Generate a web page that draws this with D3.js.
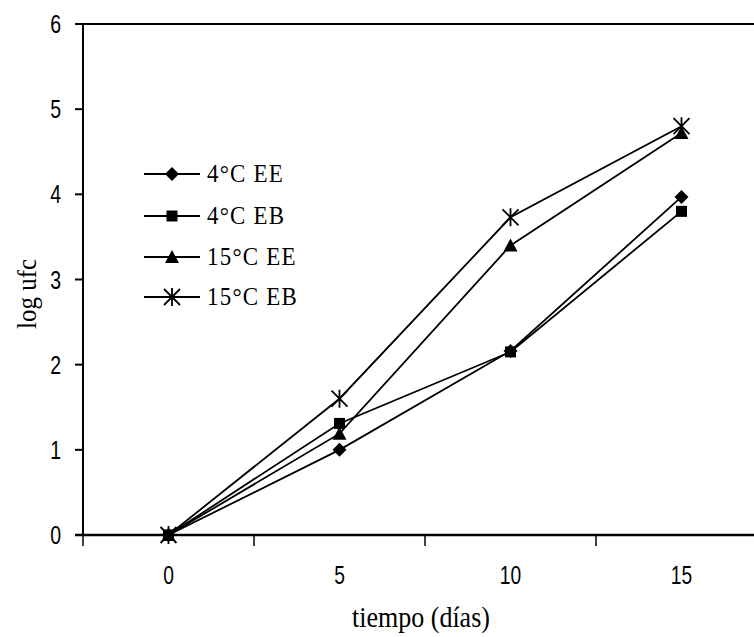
<!DOCTYPE html>
<html>
<head>
<meta charset="utf-8">
<script src="https://cdn.jsdelivr.net/npm/d3@7"></script>
<style>
  body { margin: 0; background: #fff; }
  svg { display: block; }
</style>
</head>
<body>
<svg id="chart" width="754" height="637"></svg>
<script>
// data
const dias = ["0", "5", "10", "15"];
const ee4 = [0, 1.0, 2.16, 3.97];
const eb4 = [0, 1.31, 2.15, 3.8];
const ee15 = [0, 1.19, 3.4, 4.72];
const eb15 = [0, 1.6, 3.73, 4.8];
const yTicks = [0, 1, 2, 3, 4, 5, 6];

const series = [
  { name: "4°C EE", values: ee4, marker: "diamond" },
  { name: "4°C EB", values: eb4, marker: "square" },
  { name: "15°C EE", values: ee15, marker: "triangle" },
  { name: "15°C EB", values: eb15, marker: "star" }
];

const svg = d3.select("#chart");
const plotL = 83, plotR = 767, plotT = 24, plotB = 535;

const x = d3.scaleBand().domain(dias).range([plotL, plotR]).padding(0);
const y = d3.scaleLinear().domain([0, 6]).range([plotB, plotT]);

// frame lines (top, left, bottom axis)
svg.append("line").attr("x1", plotL).attr("x2", plotR).attr("y1", plotT).attr("y2", plotT)
  .attr("stroke", "#000").attr("stroke-width", 2);
svg.append("line").attr("x1", plotL).attr("x2", plotL).attr("y1", plotT).attr("y2", plotB)
  .attr("stroke", "#000").attr("stroke-width", 2);
svg.append("line").attr("x1", plotL - 8).attr("x2", plotR).attr("y1", plotB).attr("y2", plotB)
  .attr("stroke", "#000").attr("stroke-width", 2.5);

// y ticks + labels
yTicks.forEach(t => {
  svg.append("line").attr("x1", plotL - 8).attr("x2", plotL).attr("y1", y(t)).attr("y2", y(t))
    .attr("stroke", "#000").attr("stroke-width", 2);
  svg.append("text")
    .attr("transform", `translate(61,${y(t) + 9}) scale(0.78,1.05)`)
    .attr("text-anchor", "end")
    .attr("font-family", "Liberation Sans, Arial, sans-serif")
    .attr("font-size", 25)
    .text(t);
});

// x ticks at category boundaries
dias.map(d => x(d)).concat([plotR]).forEach(px => {
  svg.append("line").attr("x1", px).attr("x2", px).attr("y1", plotB).attr("y2", plotB + 11)
    .attr("stroke", "#000").attr("stroke-width", 1.5);
});
dias.forEach(d => {
  svg.append("text")
    .attr("transform", `translate(${x(d) + x.bandwidth() / 2},584) scale(0.8,1.05)`)
    .attr("text-anchor", "middle")
    .attr("font-family", "Liberation Sans, Arial, sans-serif")
    .attr("font-size", 24)
    .text(d);
});

// axis titles
svg.append("text")
  .attr("transform", "translate(421,627) scale(1,1.15)")
  .attr("text-anchor", "middle")
  .attr("font-family", "Liberation Serif, Times New Roman, serif")
  .attr("font-size", 26)
  .text("tiempo (días)");

svg.append("text")
  .attr("transform", "translate(36,294) rotate(-90) scale(1,1.1)")
  .attr("text-anchor", "middle")
  .attr("font-family", "Liberation Serif, Times New Roman, serif")
  .attr("font-size", 25)
  .text("log ufc");

function drawMarker(g, type, cx, cy) {
  if (type === "diamond") {
    g.append("path").attr("d", `M${cx},${cy - 7}L${cx + 7},${cy}L${cx},${cy + 7}L${cx - 7},${cy}Z`)
      .attr("fill", "#000");
  } else if (type === "square") {
    g.append("rect").attr("x", cx - 5.5).attr("y", cy - 5.5).attr("width", 11).attr("height", 11)
      .attr("fill", "#000");
  } else if (type === "triangle") {
    g.append("path").attr("d", `M${cx},${cy - 7}L${cx + 7},${cy + 6}L${cx - 7},${cy + 6}Z`)
      .attr("fill", "#000");
  } else {
    g.append("path")
      .attr("d", `M${cx - 8},${cy - 8}L${cx + 8},${cy + 8}M${cx + 8},${cy - 8}L${cx - 8},${cy + 8}M${cx},${cy - 9}L${cx},${cy + 9}`)
      .attr("stroke", "#000").attr("stroke-width", 1.8).attr("fill", "none");
  }
}

const line = d3.line().x((v, i) => x(dias[i]) + x.bandwidth() / 2).y(v => y(v));

series.forEach(s => {
  svg.append("path").datum(s.values).attr("d", line)
    .attr("fill", "none").attr("stroke", "#000").attr("stroke-width", 1.8);
});
series.forEach(s => {
  const g = svg.append("g");
  s.values.forEach((v, i) => drawMarker(g, s.marker, x(dias[i]) + x.bandwidth() / 2, y(v)));
});

// legend
const legendY = [174, 216, 257, 297];
series.forEach((s, i) => {
  const ly = legendY[i];
  const g = svg.append("g");
  g.append("line").attr("x1", 144).attr("x2", 200).attr("y1", ly).attr("y2", ly)
    .attr("stroke", "#000").attr("stroke-width", 1.8);
  drawMarker(g, s.marker, 172, ly);
  g.append("text")
    .attr("transform", `translate(207,${ly + 8}) scale(1,1.1)`)
    .attr("font-family", "Liberation Serif, Times New Roman, serif")
    .attr("font-size", 23)
    .attr("letter-spacing", 1.2)
    .text(s.name);
});
</script>
</body>
</html>
